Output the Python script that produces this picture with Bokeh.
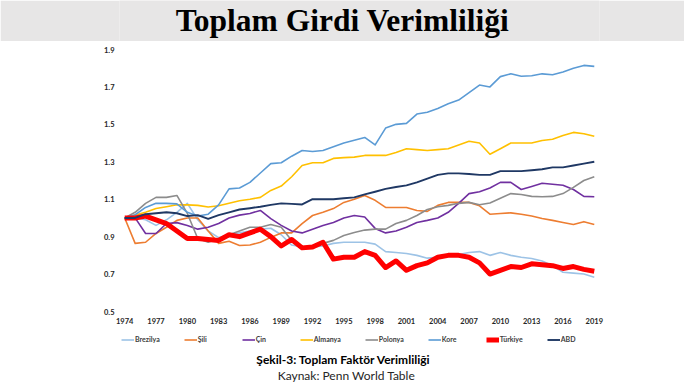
from bokeh.plotting import figure
from bokeh.models import Range1d, FixedTicker, Legend, LegendItem
from bokeh.layouts import column
from bokeh.embed import file_html
from bokeh.resources import INLINE
from bokeh.core.properties import value

title_text = "Toplam Girdi Verimliliği"
caption_text = "Şekil-3: Toplam Faktör Verimliliği"
source_text = "Kaynak: Penn World Table"

years = list(range(1974, 2020))
x_ticks = list(range(1974, 2020, 3))
y_ticks = [0.5, 0.7, 0.9, 1.1, 1.3, 1.5, 1.7, 1.9]

brezilya = [1.00, 1.00, 0.99, 0.96, 0.99, 1.03, 1.078, 0.99, 0.93, 0.895,
            0.91, 0.92, 0.93, 0.94, 0.945, 0.91, 0.855, 0.845, 0.845, 0.85,
            0.864, 0.87, 0.87, 0.87, 0.86, 0.82, 0.815, 0.81, 0.80, 0.785,
            0.79, 0.795, 0.805, 0.815, 0.82, 0.80, 0.815, 0.80, 0.79, 0.783,
            0.77, 0.745, 0.71, 0.705, 0.70, 0.683]
sili = [1.00, 0.864, 0.87, 0.917, 0.95, 0.987, 1.00, 1.00, 0.93, 0.864,
        0.875, 0.853, 0.855, 0.87, 0.896, 0.92, 0.92, 0.97, 1.013, 1.03,
        1.05, 1.083, 1.10, 1.12, 1.094, 1.056, 1.056, 1.056, 1.04, 1.035,
        1.067, 1.083, 1.083, 1.083, 1.065, 1.02, 1.024, 1.027, 1.02, 1.01,
        0.997, 0.987, 0.976, 0.965, 0.98, 0.965]
cin = [1.00, 1.00, 0.917, 0.917, 0.97, 0.975, 0.96, 0.94, 0.95, 0.97,
       1.00, 1.015, 1.024, 1.04, 0.996, 0.96, 0.93, 0.92, 0.94, 0.96,
       0.976, 1.00, 1.013, 1.005, 0.944, 0.92, 0.93, 0.95, 0.976, 0.987,
       1.00, 1.03, 1.078, 1.13, 1.14, 1.16, 1.19, 1.19, 1.152, 1.168,
       1.185, 1.18, 1.175, 1.152, 1.115, 1.113]
almanya = [1.00, 1.015, 1.03, 1.05, 1.06, 1.07, 1.07, 1.067, 1.058, 1.065,
           1.078, 1.092, 1.10, 1.11, 1.147, 1.17, 1.22, 1.28, 1.295, 1.295,
           1.318, 1.322, 1.325, 1.334, 1.334, 1.334, 1.35, 1.37, 1.365, 1.36,
           1.365, 1.37, 1.39, 1.41, 1.40, 1.34, 1.37, 1.40, 1.40, 1.40,
           1.414, 1.42, 1.44, 1.457, 1.45, 1.436]
polonya = [1.00, 1.03, 1.078, 1.11, 1.11, 1.12, 1.024, 0.89, 0.87, 0.89,
           0.91, 0.93, 0.95, 0.95, 0.965, 0.95, 0.88, 0.837, 0.845, 0.864,
           0.88, 0.906, 0.922, 0.935, 0.94, 0.94, 0.97, 0.987, 1.013, 1.045,
           1.06, 1.067, 1.078, 1.083, 1.07, 1.08, 1.105, 1.13, 1.125, 1.115,
           1.113, 1.115, 1.13, 1.163, 1.20, 1.22]
kore = [1.00, 1.017, 1.056, 1.078, 1.078, 1.075, 1.03, 1.01, 1.02, 1.07,
        1.155, 1.16, 1.19, 1.24, 1.29, 1.295, 1.33, 1.36, 1.355, 1.36,
        1.38, 1.40, 1.415, 1.43, 1.39, 1.48, 1.50, 1.505, 1.555, 1.565,
        1.585, 1.61, 1.63, 1.67, 1.71, 1.70, 1.755, 1.77, 1.757, 1.76,
        1.77, 1.765, 1.78, 1.80, 1.815, 1.81]
turkiye = [1.00, 1.00, 1.01, 0.99, 0.97, 0.93, 0.89, 0.89, 0.885, 0.88,
           0.91, 0.90, 0.92, 0.94, 0.90, 0.85, 0.885, 0.84, 0.845, 0.87,
           0.78, 0.79, 0.79, 0.82, 0.80, 0.735, 0.77, 0.72, 0.745, 0.76,
           0.79, 0.80, 0.80, 0.79, 0.76, 0.70, 0.72, 0.74, 0.735, 0.755,
           0.75, 0.745, 0.73, 0.74, 0.725, 0.715]
abd = [1.00, 1.00, 1.02, 1.025, 1.03, 1.025, 1.01, 1.015, 0.995, 1.015,
       1.03, 1.045, 1.052, 1.06, 1.07, 1.078, 1.075, 1.072, 1.10, 1.10,
       1.10, 1.105, 1.11, 1.126, 1.14, 1.155, 1.165, 1.174, 1.19, 1.21,
       1.23, 1.238, 1.238, 1.235, 1.23, 1.23, 1.25, 1.25, 1.25, 1.255,
       1.26, 1.27, 1.27, 1.28, 1.29, 1.30]

series_names = ["Brezilya", "Şili", "Çin", "Almanya", "Polonya", "Kore", "Türkiye", "ABD"]
series_values = [brezilya, sili, cin, almanya, polonya, kore, turkiye, abd]
series_colors = ["#9DC3E6", "#ED7D31", "#7030A0", "#FFC000", "#8C8C8C", "#5B9BD5", "#FF0000", "#1F3864"]
series_widths = [1.6, 1.6, 1.6, 1.6, 1.6, 1.6, 5.0, 1.9]

W = 684
LEFT, RIGHT = 119, 85          # shared borders, so the frames of the three figures line up
FONT = "Lato"
NAN = float("nan")

# ---- title band (x in page pixels) ----
top = figure(width=W, height=41, x_range=Range1d(LEFT, W - RIGHT), y_range=Range1d(0, 41),
             x_axis_type=None, y_axis_type=None,
             min_border_left=LEFT, min_border_right=RIGHT, min_border_top=0, min_border_bottom=0,
             output_backend="svg", toolbar_location=None)
top.background_fill_color = "#E7E6E6"
top.border_fill_color = "#E7E6E6"
top.outline_line_color = None
top.text(x=[342], y=[21.5], text=[title_text], text_font=value("Liberation Serif"),
         text_font_style="bold", text_font_size="31.5px", text_align="center",
         text_baseline="middle", text_color="black")

# ---- main chart ----
p = figure(width=W, height=289, x_range=Range1d(1973.5, 2019.5), y_range=Range1d(0.5, 1.9),
           min_border_left=LEFT, min_border_right=RIGHT, min_border_top=8, min_border_bottom=19,
           output_backend="svg", toolbar_location=None)
p.outline_line_color = None
p.xgrid.visible = False
p.ygrid.visible = False
p.border_fill_color = "white"

for name, vals, col, lw in zip(series_names, series_values, series_colors, series_widths):
    p.line(years, vals, line_color=col, line_width=lw, line_join="round")

p.xaxis.ticker = FixedTicker(ticks=x_ticks)
p.yaxis.ticker = FixedTicker(ticks=y_ticks)
for ax in (p.xaxis, p.yaxis):
    ax.axis_line_color = None
    ax.major_tick_line_color = None
    ax.minor_tick_line_color = None
    ax.major_tick_out = 0
    ax.major_label_text_font = FONT
    ax.major_label_text_font_style = "bold"
    ax.major_label_text_font_size = "7.5px"
    ax.major_label_text_color = "#262626"
p.xaxis.major_label_standoff = 6
p.yaxis.major_label_standoff = 5

# ---- legend + caption (x in page pixels) ----
bot = figure(width=W, height=53, x_range=Range1d(LEFT, W - RIGHT), y_range=Range1d(0, 53),
             x_axis_type=None, y_axis_type=None,
             min_border_left=LEFT, min_border_right=RIGHT, min_border_top=0, min_border_bottom=0,
             output_backend="svg", toolbar_location=None)
bot.outline_line_color = None
bot.border_fill_color = "white"

items = []
for name, col, lw in zip(series_names, series_colors, series_widths):
    # legend swatch only: a single NaN point draws nothing on the canvas
    r = bot.line(x=[NAN], y=[NAN], line_color=col, line_width=lw)
    items.append(LegendItem(label=name, renderers=[r]))

legend = Legend(items=items, orientation="horizontal", location=(2, 40),
                glyph_width=13, glyph_height=7, label_height=7, label_standoff=1,
                spacing=24, padding=0, margin=0,
                label_text_font=FONT, label_text_font_style="bold",
                label_text_font_size="7px", label_text_color="#404040",
                border_line_color=None, background_fill_alpha=0)
bot.add_layout(legend)

bot.text(x=[343], y=[24], text=[caption_text], text_font=value(FONT),
         text_font_style="bold", text_font_size="12px", text_align="center",
         text_baseline="middle", text_color="black")
bot.text(x=[346], y=[8], text=[source_text], text_font=value(FONT),
         text_font_size="12px", text_align="center",
         text_baseline="middle", text_color="#262626")

layout = column(top, p, bot, spacing=0)
open("out.html", "w").write(file_html(layout, INLINE))
